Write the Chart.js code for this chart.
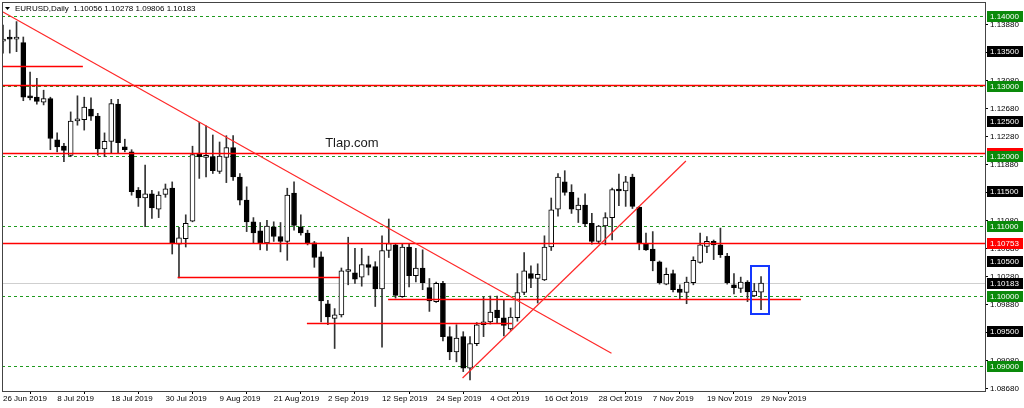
<!DOCTYPE html>
<html>
<head>
<meta charset="utf-8">
<script src="https://cdn.jsdelivr.net/npm/chart.js@4.4.0/dist/chart.umd.min.js"></script>
<style>
  html, body { margin: 0; padding: 0; background: #fff; }
  #wrap { width: 1024px; height: 408px; position: relative; }
</style>
</head>
<body>
<div id="wrap"><canvas id="eurusd"></canvas></div>
<script>
// EURUSD daily, 26 Jun 2019 - 29 Nov 2019 (one candle per trading day)
const opens = [
  1.1364, 1.1368, 1.1367, 1.1362, 1.1285, 1.1284, 1.1277, 1.1282, 1.1223, 1.1214,
  1.1201, 1.1250, 1.1252, 1.1267, 1.1257, 1.1210, 1.1221, 1.1274, 1.1213, 1.1206,
  1.1151, 1.1140, 1.1146, 1.1124, 1.1145, 1.1154, 1.1074, 1.1082, 1.1107, 1.1204,
  1.1198, 1.1199, 1.1178, 1.1198, 1.1212, 1.1170, 1.1137, 1.1106, 1.1093, 1.1076,
  1.1099, 1.1085, 1.1078, 1.1147, 1.1099, 1.1090, 1.1076, 1.1056, 1.0989, 1.0968,
  1.0973, 1.1035, 1.1033, 1.1027, 1.1045, 1.1042, 1.1010, 1.1065, 1.1073, 1.0999,
  1.1070, 1.1029, 1.1040, 1.1012, 1.0992, 1.1018, 1.0942, 1.0920, 1.0942, 1.0897,
  1.0932, 1.0959, 1.0963, 1.0980, 1.0969, 1.0953, 1.0969, 1.1005, 1.1032, 1.1025,
  1.1023, 1.1070, 1.1124, 1.1163, 1.1148, 1.1123, 1.1130, 1.1104, 1.1078, 1.1100,
  1.1112, 1.1152, 1.1150, 1.1170, 1.1127, 1.1075, 1.1067, 1.1049, 1.1017, 1.1032,
  1.1010, 1.1005, 1.1019, 1.1048, 1.1071, 1.1078, 1.1073, 1.1057, 1.1016, 1.1011,
  1.1020, 1.1000, 1.10056
];
const highs = [
  1.1387, 1.1380, 1.1392, 1.1370, 1.1320, 1.1311, 1.1294, 1.1284, 1.1233, 1.1218,
  1.1263, 1.1286, 1.1284, 1.1283, 1.1261, 1.1233, 1.1281, 1.1281, 1.1224, 1.1209,
  1.1155, 1.1187, 1.1151, 1.1149, 1.1160, 1.1163, 1.1098, 1.1116, 1.1214, 1.1248,
  1.1243, 1.1230, 1.1220, 1.1229, 1.1229, 1.1175, 1.1156, 1.1112, 1.1105, 1.1108,
  1.1106, 1.1105, 1.1154, 1.1163, 1.1116, 1.1094, 1.1078, 1.1063, 1.0994, 1.0982,
  1.1040, 1.1084, 1.1068, 1.1068, 1.1057, 1.1049, 1.1086, 1.1110, 1.1075, 1.1074,
  1.1075, 1.1068, 1.1066, 1.1025, 1.1020, 1.1021, 1.0956, 1.0959, 1.0949, 1.0942,
  1.0962, 1.0999, 1.1000, 1.1000, 1.0994, 1.0983, 1.1032, 1.1062, 1.1043, 1.1046,
  1.1086, 1.1140, 1.1175, 1.1179, 1.1159, 1.1140, 1.1146, 1.1118, 1.1101, 1.1119,
  1.1154, 1.1174, 1.1171, 1.1174, 1.1128, 1.1090, 1.1092, 1.1050, 1.1040, 1.1037,
  1.1016, 1.1027, 1.1056, 1.1090, 1.1085, 1.1080, 1.1097, 1.1061, 1.1032, 1.1027,
  1.1022, 1.1018, 1.10278
];
const lows = [
  1.1347, 1.1347, 1.1349, 1.1279, 1.1280, 1.1274, 1.1273, 1.1209, 1.1206, 1.1192,
  1.1199, 1.1244, 1.1237, 1.1251, 1.1201, 1.1199, 1.1204, 1.1204, 1.1206, 1.1144,
  1.1128, 1.1099, 1.1111, 1.1112, 1.1141, 1.1060, 1.1026, 1.1070, 1.1106, 1.1168,
  1.1170, 1.1175, 1.1175, 1.1162, 1.1165, 1.1130, 1.1092, 1.1076, 1.1066, 1.1065,
  1.1078, 1.1063, 1.1051, 1.1094, 1.1087, 1.1073, 1.1041, 1.0963, 1.0959, 1.0925,
  1.0970, 1.1016, 1.1018, 1.1014, 1.1030, 1.0985, 1.0927, 1.1055, 1.0997, 1.0998,
  1.1013, 1.1020, 1.1009, 1.0978, 1.0991, 1.0936, 1.0909, 1.0906, 1.0892, 1.0880,
  1.0929, 1.0942, 1.0960, 1.0961, 1.0943, 1.0951, 1.0964, 1.1002, 1.1012, 1.0990,
  1.1022, 1.1065, 1.1114, 1.1144, 1.1118, 1.1105, 1.1099, 1.1074, 1.1075, 1.1073,
  1.1080, 1.1129, 1.1128, 1.1125, 1.1066, 1.1065, 1.1036, 1.1017, 1.1016, 1.1006,
  1.0995, 1.0989, 1.1016, 1.1047, 1.1062, 1.1052, 1.1055, 1.1017, 1.1003, 1.1005,
  1.0992, 1.0999, 1.09806
];
const closes = [
  1.1367, 1.1367, 1.1368, 1.1284, 1.1283, 1.1278, 1.1282, 1.1225, 1.1213, 1.1208,
  1.1250, 1.1253, 1.1270, 1.1257, 1.1210, 1.1221, 1.1275, 1.1219, 1.1209, 1.1149,
  1.1140, 1.1146, 1.1126, 1.1144, 1.1153, 1.1075, 1.1083, 1.1104, 1.1202, 1.1199,
  1.1200, 1.1179, 1.1200, 1.1212, 1.1170, 1.1137, 1.1106, 1.1090, 1.1076, 1.1100,
  1.1085, 1.1078, 1.1144, 1.1101, 1.1090, 1.1076, 1.1055, 1.0993, 1.0970, 1.0973,
  1.1036, 1.1035, 1.1024, 1.1045, 1.1041, 1.1010, 1.1065, 1.1075, 1.1001, 1.1070,
  1.1029, 1.1040, 1.1019, 1.0993, 1.1018, 1.0942, 1.0920, 1.0940, 1.0897, 1.0932,
  1.0959, 1.0963, 1.0977, 1.0969, 1.0958, 1.0970, 1.1005, 1.1036, 1.1025, 1.1031,
  1.1070, 1.1123, 1.1170, 1.1148, 1.1124, 1.1130, 1.1103, 1.1078, 1.1100, 1.1112,
  1.1152, 1.1150, 1.1163, 1.1128, 1.1075, 1.1066, 1.1050, 1.1019, 1.1031, 1.1009,
  1.1005, 1.1020, 1.1051, 1.1073, 1.1078, 1.1073, 1.1059, 1.1019, 1.1012, 1.1020,
  1.1006, 1.1007, 1.10183
];

// x axis: one label every 8 candles
const tickEvery = 8;
const dateLabels = ["26 Jun 2019", "8 Jul 2019", "18 Jul 2019", "30 Jul 2019", "9 Aug 2019",
  "21 Aug 2019", "2 Sep 2019", "12 Sep 2019", "24 Sep 2019", "4 Oct 2019", "16 Oct 2019",
  "28 Oct 2019", "7 Nov 2019", "19 Nov 2019", "29 Nov 2019"];

// y axis ticks
const priceTicks = [1.0868, 1.0908, 1.0948, 1.0988, 1.1028, 1.1068, 1.1108, 1.1148,
  1.1188, 1.1228, 1.1268, 1.1308, 1.1348, 1.1388];

// levels drawn across the chart
const dashedLevels = [1.14, 1.13, 1.12, 1.11, 1.10, 1.09];
const redLevels = [1.1302, 1.1204, 1.10753];
const bidPrice = 1.10183;

// short red horizontal segments (price, from candle, to candle)
const segPrice = [1.1329, 1.1027, 1.0961, 1.0996];
const segFrom = [0, 25.8, 44.9, 56.9];
const segTo = [11.8, 49.8, 75.2, 117.9];

// trend lines [candle, price] -> [candle, price]
const trendStart = [[0, 1.14057], [67.9, 1.08829]];
const trendEnd = [[89.9, 1.09181], [100.9, 1.11929]];

// highlight box round the last candle
const boxCandles = [110.5, 113.2];
const boxPrices = [1.10429, 1.09743];

// coloured price labels on the right axis
const labelPrices = [1.14, 1.135, 1.13, 1.125, 1.1204, 1.12, 1.115, 1.11, 1.10753, 1.105, 1.10183, 1.10, 1.095, 1.09];
const labelColors = ['#0a8a0a', '#000', '#0a8a0a', '#000', '#ff0000', '#0a8a0a', '#000', '#0a8a0a',
  '#ff0000', '#000', '#000', '#0a8a0a', '#000', '#0a8a0a'];

const titleText = 'EURUSD,Daily  1.10056 1.10278 1.09806 1.10183';
const watermark = 'Tlap.com';
const watermarkAt = [47.6, 1.12186];

Chart.defaults.font.family = "'Liberation Sans', Arial, sans-serif";
Chart.defaults.font.size = 8;
Chart.defaults.color = '#000';

const isUp = i => closes[i] >= opens[i];

function hline(ctx, x0, x1, py) {
  ctx.beginPath();
  ctx.moveTo(x0, py);
  ctx.lineTo(x1, py);
  ctx.stroke();
}

const overlay = {
  id: 'overlay',
  beforeDatasetsDraw(chart) {
    const { ctx, chartArea: a, scales: { x, y } } = chart;
    ctx.save();
    ctx.beginPath();
    ctx.rect(a.left, a.top, a.right - a.left, a.bottom - a.top);
    ctx.clip();
    ctx.lineWidth = 1;

    // bid line
    ctx.strokeStyle = '#cfcfcf';
    hline(ctx, a.left, a.right, Math.round(y.getPixelForValue(bidPrice)) + 0.5);

    // green dotted levels
    ctx.strokeStyle = '#1f9a1f';
    ctx.setLineDash([3, 3]);
    dashedLevels.forEach(v => hline(ctx, a.left, a.right, Math.round(y.getPixelForValue(v)) + 0.5));
    ctx.setLineDash([]);

    // watermark text
    ctx.fillStyle = '#1a1a1a';
    ctx.font = "13px 'Liberation Sans', Arial, sans-serif";
    ctx.textBaseline = 'middle';
    ctx.textAlign = 'left';
    ctx.fillText(watermark, x.getPixelForValue(watermarkAt[0]), y.getPixelForValue(watermarkAt[1]));
    ctx.restore();
  },
  afterDatasetsDraw(chart) {
    const { ctx, chartArea: a, scales: { x, y } } = chart;
    ctx.save();
    ctx.beginPath();
    ctx.rect(a.left, a.top, a.right - a.left, a.bottom - a.top);
    ctx.clip();

    // red levels and segments
    ctx.lineWidth = 1.7;
    ctx.strokeStyle = 'rgb(255,0,0)';
    redLevels.forEach(v => hline(ctx, a.left, a.right, Math.round(y.getPixelForValue(v)) + 0.5));
    segPrice.forEach((v, k) => hline(ctx, x.getPixelForValue(segFrom[k]), x.getPixelForValue(segTo[k]),
      Math.round(y.getPixelForValue(v)) + 0.5));

    // trend lines
    ctx.lineWidth = 1.2;
    ctx.strokeStyle = 'rgb(255,40,40)';
    trendStart.forEach((s, k) => {
      const e = trendEnd[k];
      ctx.beginPath();
      ctx.moveTo(x.getPixelForValue(s[0]), y.getPixelForValue(s[1]));
      ctx.lineTo(x.getPixelForValue(e[0]), y.getPixelForValue(e[1]));
      ctx.stroke();
    });

    // blue box round the last candle
    ctx.strokeStyle = '#1437ff';
    ctx.lineWidth = 2;
    const x0 = x.getPixelForValue(boxCandles[0]), x1 = x.getPixelForValue(boxCandles[1]);
    const y0 = y.getPixelForValue(boxPrices[0]), y1 = y.getPixelForValue(boxPrices[1]);
    ctx.strokeRect(Math.round(x0), Math.round(y0), Math.round(x1 - x0), Math.round(y1 - y0));
    ctx.restore();
  },
  afterDraw(chart) {
    const { ctx, chartArea: a, scales: { y } } = chart;
    ctx.save();
    // frame
    ctx.strokeStyle = '#444';
    ctx.lineWidth = 1;
    ctx.strokeRect(a.left + 0.5, a.top + 0.5, a.right - a.left, a.bottom - a.top);

    // coloured price labels
    ctx.font = "8px 'Liberation Sans', Arial, sans-serif";
    ctx.textBaseline = 'middle';
    ctx.textAlign = 'left';
    labelPrices.forEach((v, k) => {
      const py = Math.round(y.getPixelForValue(v));
      ctx.fillStyle = labelColors[k];
      ctx.fillRect(a.right + 2, py - 5, 1024 - a.right - 3, 11);
      ctx.fillStyle = '#fff';
      ctx.fillText(v.toFixed(5), a.right + 5, py + 0.5);
    });

    // title
    ctx.fillStyle = '#000';
    ctx.beginPath();
    ctx.moveTo(5, 7); ctx.lineTo(10, 7); ctx.lineTo(7.5, 10); ctx.closePath();
    ctx.fill();
    ctx.fillText(titleText, 15, 9);
    ctx.restore();
  }
};

new Chart(document.getElementById('eurusd'), {
  type: 'bar',
  data: {
    datasets: [
      {
        label: 'wick',
        data: opens.map((o, i) => ({ x: i, y: [lows[i], highs[i]] })),
        backgroundColor: '#333',
        barThickness: 1,
        borderWidth: 0,
        order: 2
      },
      {
        label: 'body',
        data: opens.map((o, i) => ({ x: i, y: [o, closes[i]] })),
        backgroundColor: ctx => isUp(ctx.dataIndex) ? '#fff' : '#000',
        borderColor: '#000',
        borderWidth: 1,
        borderSkipped: false,
        barThickness: 5,
        minBarLength: 2,
        order: 1
      }
    ]
  },
  options: {
    responsive: true,
    maintainAspectRatio: false,
    animation: false,
    layout: { padding: { left: 2, top: 2, right: 0, bottom: 0 } },
    datasets: { bar: { grouped: false } },
    plugins: { legend: { display: false }, tooltip: { enabled: false } },
    scales: {
      x: {
        type: 'linear',
        min: -0.148,
        max: 145.09,
        offset: false,
        afterBuildTicks: scale => {
          scale.ticks = dateLabels.map((d, k) => ({ value: k * tickEvery }));
        },
        afterFit: scale => {
          scale.height = 17;
          scale.paddingLeft = 0;
          scale.paddingRight = 0;
        },
        ticks: {
          autoSkip: false,
          maxRotation: 0,
          align: 'start',
          padding: 0,
          callback: v => dateLabels[Math.round(v / tickEvery)]
        },
        grid: { drawOnChartArea: false, drawTicks: true, tickLength: 3, color: '#000' },
        border: { display: false }
      },
      y: {
        position: 'right',
        min: 1.08643,
        max: 1.14200,
        afterBuildTicks: scale => {
          scale.ticks = priceTicks.map(v => ({ value: v }));
        },
        afterFit: scale => {
          scale.width = 39;
          scale.paddingTop = 0;
          scale.paddingBottom = 0;
        },
        ticks: {
          padding: 2,
          callback: v => v.toFixed(5)
        },
        grid: { drawOnChartArea: false, drawTicks: true, tickLength: 3, color: '#000' },
        border: { display: false }
      }
    }
  },
  plugins: [overlay]
});
</script>
</body>
</html>
